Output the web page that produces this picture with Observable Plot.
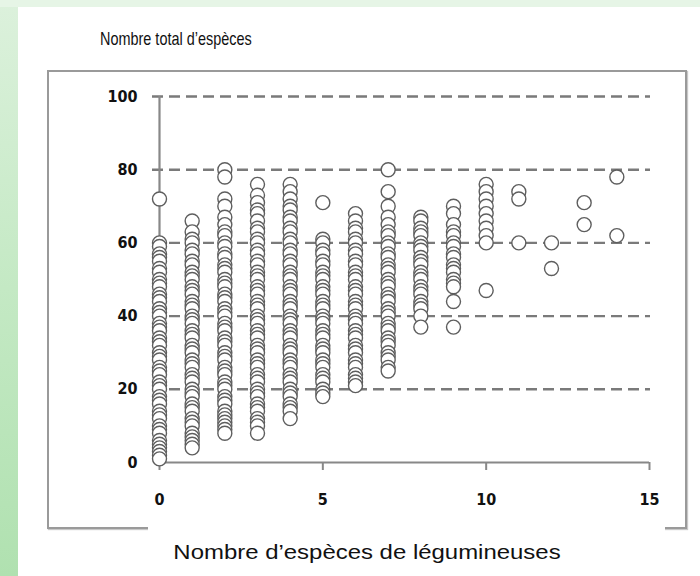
<!DOCTYPE html>
<html>
<head>
<meta charset="utf-8">
<script src="https://cdn.jsdelivr.net/npm/d3@7"></script>
<script src="https://cdn.jsdelivr.net/npm/@observablehq/plot@0.6"></script>
<style>
  html, body { margin: 0; padding: 0; }
  body { width: 700px; height: 576px; position: relative; overflow: hidden;
         background: linear-gradient(to bottom, #dcf1dc 0%, #c4e9c4 50%, #b0e1b0 100%); }
  #topstrip { position: absolute; left: 0; top: 0; width: 700px; height: 7px; background: #e6f5e6; }
  #panel { position: absolute; left: 18px; top: 7px; width: 682px; height: 569px; background: #fff; }
  #box { position: absolute; left: 47px; top: 70px; width: 636px; height: 455px;
         border: 2px solid #9a9a9a; box-shadow: 1px 1px 1px #c8c8c8; }
  #cover { position: absolute; left: 148px; top: 480px; width: 517px; height: 60px; background: #fff; }
  #title { position: absolute; left: 100px; top: 28px; font-family: "Liberation Sans", Arial, sans-serif;
           font-size: 19px; color: #111; white-space: nowrap; transform: scaleX(0.76); transform-origin: 0 0; }
  #xlabel { position: absolute; left: 367px; top: 540px; font-family: "Liberation Sans", Arial, sans-serif;
            font-size: 21px; color: #111; white-space: nowrap; transform: translateX(-50%) scaleX(1.14); }
  #chart { position: absolute; left: 47px; top: 70px; }
  #chart svg text { font-stretch: condensed; }
</style>
</head>
<body>
<div id="topstrip"></div>
<div id="panel"></div>
<div id="box"></div>
<div id="cover"></div>
<div id="title">Nombre total d’espèces</div>
<div id="chart"></div>
<div id="xlabel">Nombre d’espèces de légumineuses</div>
<script>
// Nombre d'espèces de légumineuses (x) -> nombre total d'espèces observé (y)
const leg0 = [72, 60, 59, 57, 56, 55, 53, 52, 50, 49, 48, 46, 45, 44, 42, 41, 40, 38, 37, 36, 34, 33, 32, 30, 29, 28, 26, 25, 24, 22, 21, 20, 18, 17, 16, 14, 13, 12, 10, 9, 8, 6, 5, 4, 3, 2, 1];
const leg1 = [66, 63, 61, 60, 58, 57, 55, 54, 52, 51, 50, 48, 47, 46, 44, 43, 42, 40, 39, 38, 36, 35, 34, 32, 31, 30, 28, 27, 26, 24, 23, 22, 20, 19, 18, 16, 15, 14, 12, 11, 10, 8, 7, 6, 5, 4];
const leg2 = [80, 78, 72, 70, 67, 65, 63, 62, 60, 59, 57, 56, 54, 53, 52, 50, 49, 48, 46, 45, 44, 42, 41, 40, 38, 37, 36, 34, 33, 32, 30, 29, 28, 26, 25, 24, 22, 21, 20, 18, 17, 16, 14, 13, 12, 11, 10, 9, 8];
const leg3 = [76, 73, 71, 69, 68, 66, 64, 63, 61, 60, 58, 57, 55, 54, 52, 51, 50, 48, 47, 46, 44, 43, 42, 40, 39, 38, 36, 35, 34, 32, 31, 30, 28, 27, 26, 24, 23, 22, 20, 19, 18, 16, 15, 14, 12, 11, 10, 8];
const leg4 = [76, 74, 72, 70, 69, 67, 66, 64, 63, 61, 60, 58, 57, 55, 54, 52, 51, 50, 48, 47, 46, 44, 43, 42, 40, 39, 38, 36, 35, 34, 32, 31, 30, 28, 27, 26, 24, 23, 22, 20, 19, 18, 16, 15, 14, 12];
const leg5 = [71, 61, 60, 58, 57, 55, 54, 52, 51, 50, 48, 47, 46, 44, 43, 42, 40, 39, 38, 36, 35, 34, 32, 31, 30, 28, 27, 26, 24, 23, 22, 20, 19, 18];
const leg6 = [68, 66, 64, 63, 61, 60, 58, 57, 55, 54, 52, 51, 50, 48, 47, 46, 44, 43, 42, 40, 39, 38, 36, 35, 34, 32, 31, 30, 28, 27, 26, 24, 23, 22, 21];
const leg7 = [80, 74, 70, 67, 65, 63, 62, 60, 59, 57, 56, 54, 53, 52, 50, 49, 48, 46, 45, 44, 42, 41, 40, 38, 37, 36, 34, 33, 32, 30, 29, 28, 26, 25];
const leg8 = [67, 66, 64, 63, 62, 60, 59, 58, 56, 55, 54, 52, 51, 50, 48, 47, 46, 44, 43, 42, 40, 37];
const leg9 = [70, 68, 65, 63, 62, 60, 59, 57, 56, 54, 53, 52, 50, 49, 48, 44, 37];
const leg10 = [76, 74, 72, 70, 68, 66, 64, 62, 60, 47];
const leg11 = [74, 72, 60];
const leg12 = [60, 53];
const leg13 = [71, 65];
const leg14 = [78, 62];

const columns = [leg0, leg1, leg2, leg3, leg4, leg5, leg6, leg7, leg8, leg9, leg10, leg11, leg12, leg13, leg14];
const xTicks = [0, 5, 10, 15];
const yTicks = [0, 20, 40, 60, 80, 100];
const yGrid = [20, 40, 60, 80, 100];

const data = columns.flatMap((vals, i) => vals.map(v => ({leg: i, total: v})));

const axisFont = "'DejaVu Sans', Verdana, sans-serif";

const chart = Plot.plot({
  width: 639,
  height: 470,
  marginLeft: 112,
  marginRight: 37,
  marginTop: 26,
  marginBottom: 78,
  style: { background: "transparent", overflow: "visible" },
  x: { domain: [0, 15] },
  y: { domain: [0, 100] },
  marks: [
    Plot.ruleY(yGrid, { stroke: "#7a7a7a", strokeWidth: 2.4, strokeDasharray: "11,6", insetLeft: -7, insetRight: -1 }),
    Plot.ruleX([0], { y1: 0, y2: 100, stroke: "#888", strokeWidth: 2.2 }),
    Plot.ruleY([0], { stroke: "#888", strokeWidth: 2.2 }),
    Plot.axisX({ ticks: xTicks, tickSize: 8, tickPadding: 23, stroke: "#888", strokeWidth: 2,
                 fontSize: 16, fontWeight: "bold", fontFamily: axisFont, color: "#111", label: null }),
    Plot.axisY({ ticks: yTicks, tickSize: 0, tickPadding: 22,
                 fontSize: 16, fontWeight: "bold", fontFamily: axisFont, color: "#111", label: null }),
    Plot.dot(data, { x: "leg", y: "total", r: 7, stroke: "#5e5e5e", strokeWidth: 1.4, fill: "#fff" })
  ]
});
document.getElementById("chart").appendChild(chart);
</script>
</body>
</html>
